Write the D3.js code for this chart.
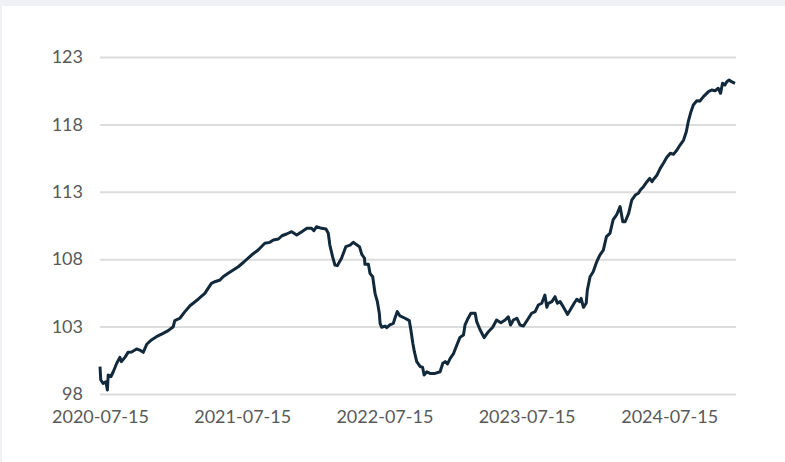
<!DOCTYPE html>
<html>
<head>
<meta charset="utf-8">
<script src="https://cdn.jsdelivr.net/npm/d3@7"></script>
<style>
  html, body { margin: 0; padding: 0; background: #f0f1f5; }
  svg { display: block; }
  text { font-family: Lato, "Open Sans", sans-serif; }
</style>
</head>
<body>
<svg id="chart" width="785" height="462"></svg>
<script>
const dates = [
"2020-07-15","2020-07-17","2020-07-23","2020-07-30","2020-08-03","2020-08-05","2020-08-12","2020-08-18","2020-08-27","2020-09-04",
"2020-09-08","2020-09-17","2020-09-25","2020-10-04","2020-10-17","2020-10-25","2020-11-03","2020-11-12","2020-11-24","2020-12-07",
"2020-12-16","2020-12-24","2021-01-06","2021-01-19","2021-01-23","2021-02-05","2021-02-18","2021-03-03","2021-03-24","2021-04-10",
"2021-04-27","2021-05-06","2021-05-19","2021-05-27","2021-06-09","2021-06-22","2021-07-05","2021-07-20","2021-08-08","2021-08-25",
"2021-09-11","2021-09-24","2021-10-03","2021-10-16","2021-10-25","2021-11-06","2021-11-19","2021-12-02","2021-12-15","2021-12-28",
"2022-01-09","2022-01-15","2022-01-22","2022-02-04","2022-02-15","2022-02-21","2022-02-25","2022-03-04","2022-03-10","2022-03-16",
"2022-03-27","2022-04-07","2022-04-18","2022-04-26","2022-05-03","2022-05-12","2022-05-18","2022-05-25","2022-05-26","2022-06-04",
"2022-06-08","2022-06-15","2022-06-21","2022-06-27","2022-07-02","2022-07-04","2022-07-08","2022-07-17","2022-07-21","2022-07-29",
"2022-08-07","2022-08-11","2022-08-17","2022-08-24","2022-09-06","2022-09-17","2022-09-21","2022-09-26","2022-09-30","2022-10-06",
"2022-10-15","2022-10-21","2022-10-25","2022-11-01","2022-11-09","2022-11-22","2022-12-05","2022-12-12","2022-12-18","2022-12-24",
"2022-12-31","2023-01-08","2023-01-17","2023-01-25","2023-02-03","2023-02-07","2023-02-15","2023-02-22","2023-03-05","2023-03-09",
"2023-03-17","2023-03-28","2023-04-08","2023-04-19","2023-04-29","2023-05-10","2023-05-21","2023-05-29","2023-06-04","2023-06-11",
"2023-06-20","2023-06-28","2023-07-07","2023-07-17","2023-07-28","2023-08-06","2023-08-14","2023-08-23","2023-08-31","2023-09-05",
"2023-09-09","2023-09-18","2023-09-26","2023-10-02","2023-10-09","2023-10-17","2023-10-28","2023-11-04","2023-11-14","2023-11-21",
"2023-11-28","2023-12-02","2023-12-08","2023-12-15","2023-12-18","2023-12-25","2024-01-02","2024-01-11","2024-01-19","2024-01-28",
"2024-02-05","2024-02-14","2024-02-22","2024-03-02","2024-03-11","2024-03-18","2024-03-24","2024-04-02","2024-04-10","2024-04-19",
"2024-04-27","2024-05-02","2024-05-10","2024-05-19","2024-05-26","2024-06-01","2024-06-05","2024-06-14","2024-06-22","2024-07-01",
"2024-07-09","2024-07-18","2024-07-26","2024-08-04","2024-08-12","2024-08-21","2024-08-28","2024-09-02","2024-09-09","2024-09-15",
"2024-09-24","2024-10-02","2024-10-11","2024-10-24","2024-11-01","2024-11-10","2024-11-18","2024-11-24","2024-11-29","2024-12-05",
"2024-12-10","2024-12-16","2024-12-22","2024-12-31"
];
const values = [
100.03,99.04,98.79,98.91,98.30,99.41,99.28,99.65,100.28,100.72,
100.40,100.72,101.09,101.12,101.34,101.26,101.09,101.69,102.01,102.25,
102.38,102.50,102.70,102.99,103.44,103.62,104.11,104.55,105.03,105.47,
106.21,106.33,106.46,106.70,106.95,107.20,107.44,107.81,108.31,108.68,
109.18,109.25,109.42,109.50,109.74,109.87,110.04,109.80,110.04,110.29,
110.29,110.11,110.41,110.29,110.24,109.92,109.05,108.19,107.57,107.52,
108.07,108.93,109.05,109.25,109.11,108.93,108.36,108.07,107.62,107.62,
106.95,106.70,105.47,104.85,103.99,103.24,102.95,103.04,102.92,103.12,
103.24,103.62,104.11,103.79,103.62,103.44,102.75,101.76,101.14,100.40,
100.03,99.98,99.41,99.65,99.53,99.53,99.65,100.28,100.40,100.23,
100.65,100.97,101.63,102.20,102.38,103.12,103.62,103.99,103.99,103.37,
102.80,102.18,102.62,102.95,103.49,103.29,103.49,103.73,103.12,103.49,
103.62,103.12,103.04,103.49,103.99,104.11,104.60,104.73,105.34,104.43,
104.73,104.85,105.22,104.73,104.85,104.48,103.91,104.23,104.73,105.03,
104.85,105.10,104.43,104.73,105.72,106.70,107.07,107.81,108.31,108.68,
109.67,109.92,110.91,111.28,111.90,110.78,110.78,111.40,112.39,112.76,
112.89,113.13,113.38,113.75,114.00,113.75,113.93,114.25,114.74,115.16,
115.56,115.86,115.78,116.10,116.47,116.84,117.46,118.20,118.94,119.44,
119.76,119.74,120.06,120.43,120.55,120.50,120.68,120.31,121.05,120.92,
121.17,121.29,121.17,121.05
];
const yTicks = [98, 103, 108, 113, 118, 123];
const xTickLabels = ["2020-07-15", "2021-07-15", "2022-07-15", "2023-07-15", "2024-07-15"];

const parse = d3.utcParse("%Y-%m-%d");
const data = dates.map((d, i) => ({ date: parse(d), value: values[i] }));

const svg = d3.select("#chart");
svg.append("rect").attr("x", 2).attr("y", 6).attr("width", 783).attr("height", 456).attr("fill", "#ffffff");

const x = d3.scaleUtc()
  .domain(d3.extent(data, d => d.date))
  .range([100, 735]);
const y = d3.scaleLinear().domain([98, 123]).range([394, 57]);

// Y grid + labels
const yAxis = d3.axisLeft(y).tickValues(yTicks).tickSize(-636).tickPadding(17).tickFormat(d3.format("d"));
const gy = svg.append("g").attr("transform", "translate(100,0)").call(yAxis);
gy.select(".domain").remove();
gy.selectAll(".tick line").attr("stroke", "#dcdcdc").attr("stroke-width", 2);
gy.selectAll(".tick text").attr("fill", "#595959").attr("font-size", 18).attr("font-family", "Lato, sans-serif");

// X axis labels
const xAxis = d3.axisBottom(x).tickValues(xTickLabels.map(parse)).tickSize(0).tickPadding(0)
  .tickFormat(d3.utcFormat("%Y-%m-%d"));
const gx = svg.append("g").attr("transform", "translate(0,410)").call(xAxis);
gx.select(".domain").remove();
gx.selectAll(".tick text").attr("fill", "#595959").attr("font-size", 18).attr("font-family", "Lato, sans-serif")
  .attr("dy", "0.71em");

// Line
const line = d3.line().x(d => x(d.date)).y(d => y(d.value));
svg.append("path").datum(data)
  .attr("fill", "none")
  .attr("stroke", "#11293a")
  .attr("stroke-width", 3)
  .attr("stroke-linejoin", "round")
  .attr("d", line);
</script>
</body>
</html>
